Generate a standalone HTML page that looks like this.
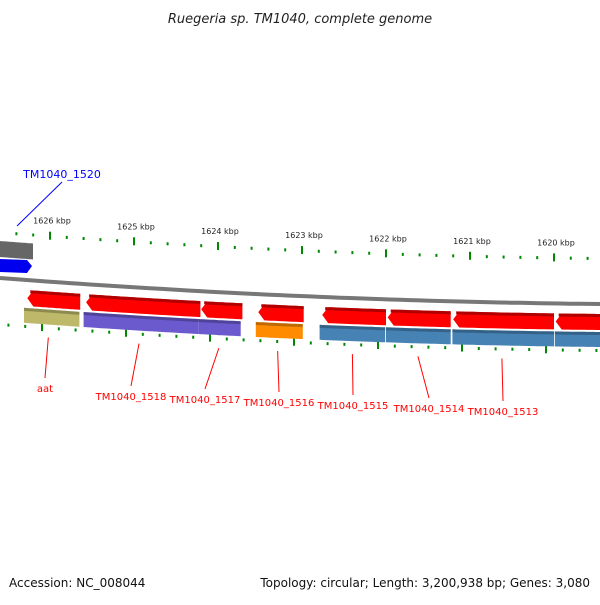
<!DOCTYPE html>
<html><head><meta charset="utf-8"><style>
body{margin:0;background:#fff;width:600px;height:600px;overflow:hidden}
svg{font-family:"DejaVu Sans","Liberation Sans",sans-serif}
</style></head><body>
<svg id="chart" width="600" height="600">
<text x="300" y="23" text-anchor="middle" font-size="13" font-style="italic" fill="#222">Ruegeria sp. TM1040, complete genome</text>
<text x="9" y="587" font-size="12" fill="#111">Accession: NC_008044</text>
<text x="590" y="587" font-size="12" fill="#111" text-anchor="end">Topology: circular; Length: 3,200,938 bp; Genes: 3,080</text>
<g id="g"></g>
</svg>
<script>
const tickKbp=[1626,1625,1624,1623,1622,1621,1620];
const redGenes=[[1626.27,1625.64],[1625.57,1624.21],[1624.20,1623.71],[1623.52,1622.98],[1622.76,1622.0],[1621.98,1621.23],[1621.20,1620.0],[1619.98,1619.45]];
const cdsGenes=[[1626.31,1625.65],[1625.60,1624.23],[1624.23,1623.73],[1623.55,1622.99],[1622.79,1622.01],[1622.0,1621.23],[1621.21,1620.0],[1619.99,1619.45]];
const cdsColors=['#bdb86a','#6a5acd','#6a5acd','#ff8c00','#4682b4','#4682b4','#4682b4','#4682b4'];
const labelNames=['aat','TM1040_1518','TM1040_1517','TM1040_1516','TM1040_1515','TM1040_1514','TM1040_1513'];
const labelKbp=[1626.02,1624.94,1623.99,1623.29,1622.40,1621.62,1620.62];
const labelTextX=[45,131,205,279,353,429,503];
const X=k=>50+(1626-k)*84;
const Y=(x,o)=>279+o+0.0767*x-5.56e-5*x*x;
const g=document.getElementById('g');
const NS='http://www.w3.org/2000/svg';
function mk(t,a){const e=document.createElementNS(NS,t);for(const k in a)e.setAttribute(k,a[k]);g.appendChild(e);return e;}
function band(x1,x2,o1,o2,arrow){let p=[];const n=20;
 for(let i=0;i<=n;i++){const x=x1+(arrow?6:0)+(x2-x1-(arrow?6:0))*i/n;p.push([x,Y(x,o1)]);}
 for(let i=n;i>=0;i--){const x=x1+(arrow?6:0)+(x2-x1-(arrow?6:0))*i/n;p.push([x,Y(x,o2)]);}
 if(arrow)p.push([x1,Y(x1,(o1+o2)/2)]);
 return p.map(q=>q[0].toFixed(1)+','+q[1].toFixed(1)).join(' ');}
// backbone
let bp='';for(let x=0;x<=600;x+=10)bp+=x+','+Y(x,-1).toFixed(1)+' ';
let e=mk('polyline',{points:bp,fill:'none',stroke:'#777',"stroke-width":4});

// top-left features
e=mk('polygon',{points:band(-10,33,-38,-22,false),fill:'#666'});

e=mk('polygon',{points:'0,259 27,260 32,266 27,273 0,272',fill:'#0000ee'});

e=mk('line',{x1:17,y1:226,x2:62,y2:182,stroke:'#00f'});

e=mk('text',{x:62,y:178,"font-size":11,fill:'#00f',"text-anchor":'middle'});e.textContent='TM1040_1520';

// ticks
for(let i=-6;i<=40;i++){const kk=1627-i*0.2;const x=X(kk);
 const major=(i%5===0);
 if(x>=0&&x<=600){const yt=Y(x,-47);
 e=mk('rect',{x:x-1,y:yt-(major?4:1),width:2,height:major?8:3,fill:'#080'});
 }
 const xb=x-8;
 if(xb>=0&&xb<=600){
 e=mk('rect',{x:xb-1,y:Y(xb,45)-(major?4:1),width:2,height:major?8:3,fill:'#080'});
 }}
tickKbp.forEach(k=>{const x=X(k);e=mk('text',{x:x+2,y:Y(x,-59),"font-size":8,fill:'#222',"text-anchor":'middle'});e.textContent=k+' kbp';
 });
// genes
redGenes.forEach(r=>{const x1=X(r[0]),x2=X(r[1]);
 e=mk('polygon',{points:band(x1,x2,9,25,true),fill:'#ff0000'});
 
 e=mk('polygon',{points:band(x1+3,x2,9,12,false),fill:'#b00000'});
 });
cdsGenes.forEach((r,i)=>{const x1=X(r[0]),x2=X(r[1]);
 e=mk('polygon',{points:band(x1,x2,27,42,false),fill:cdsColors[i]});
 
 e=mk('polygon',{points:band(x1,x2,27,30,false),fill:'#000',"fill-opacity":0.25});
 });
// labels
labelNames.forEach((n,i)=>{const x=X(labelKbp[i]);const tx=labelTextX[i];const ty=389+(i?8+(i-1)*3:0);
 e=mk('line',{x1:x,y1:Y(x,55),x2:tx,y2:ty-11,stroke:'#f00'});
 
 e=mk('text',{x:tx,y:ty+3,"font-size":10,fill:'#f00',"text-anchor":'middle'});e.textContent=n;
 });
</script>
</body></html>
